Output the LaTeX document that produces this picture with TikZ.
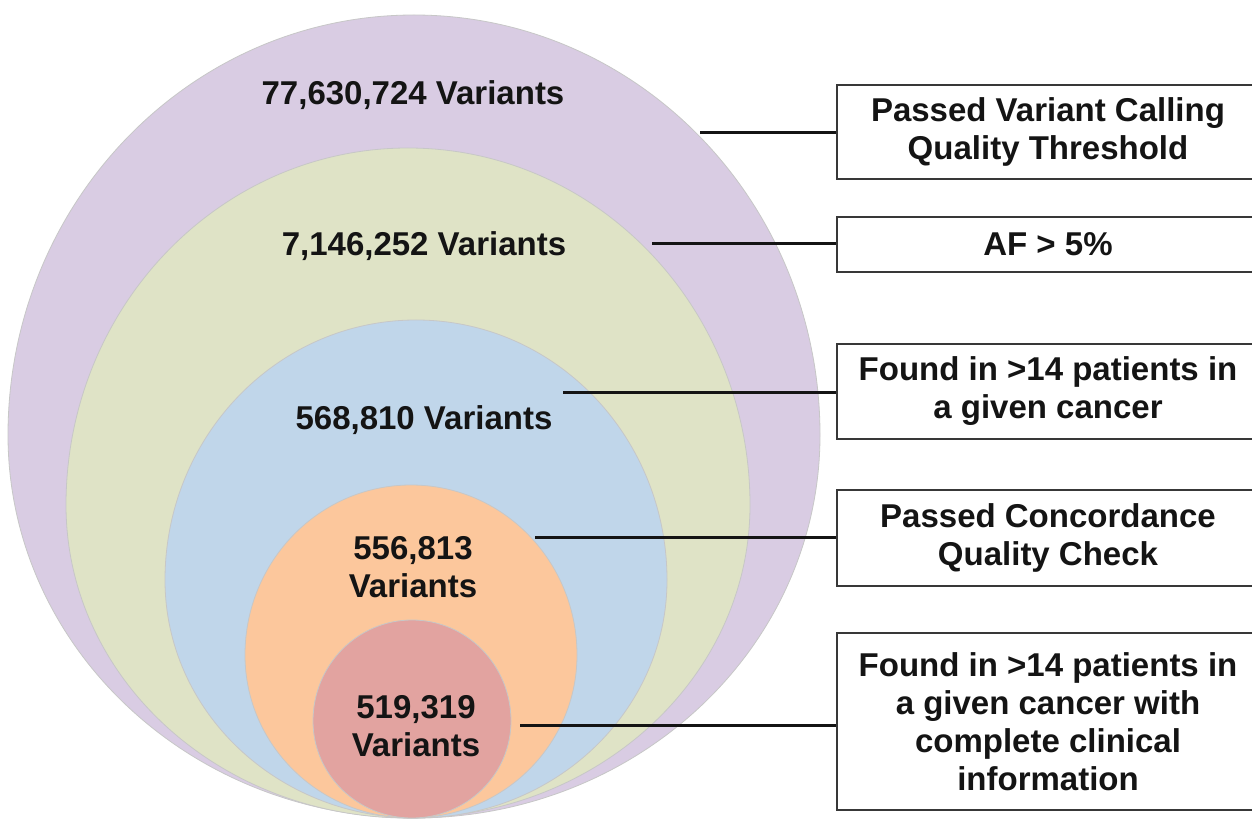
\documentclass[tikz,border=0pt]{standalone}
\usepackage{fontspec}
\setmainfont{Liberation Sans}
\usetikzlibrary{calc,positioning}
\definecolor{TierPurple}{HTML}{D9CCE3}
\definecolor{TierGreen}{HTML}{DFE3C6}
\definecolor{TierBlue}{HTML}{C0D6EA}
\definecolor{TierOrange}{HTML}{FCC79C}
\definecolor{TierRed}{HTML}{E2A3A0}
\definecolor{InkDark}{HTML}{141414}
\tikzset{
  egg/.style={draw=black!22,line width=.8pt},
  count/.style={font=\fontsize{33}{38}\selectfont\bfseries,text=InkDark,inner sep=0pt,align=center},
  filterbox/.style={draw=black!78,line width=1.3pt,fill=white,minimum width=422pt,
    font=\fontsize{33}{38}\selectfont\bfseries,text=InkDark,align=center,inner sep=0pt},
  link/.style={draw=InkDark,line width=3pt}
}
% one nested set: upper half-ellipse on top of a slightly flatter lower half
\newcommand{\DrawEgg}[6]{%
  \filldraw[egg,fill=#1] (#2-#4,#3)
    arc[start angle=180,end angle=0,x radius=#4,y radius=#5]
    arc[start angle=0,end angle=-180,x radius=#4,y radius=#6] -- cycle;
}

\begin{document}
\begin{tikzpicture}[x=1pt,y=1pt]
  \useasboundingbox (0,0) rectangle (1252,820);
  \fill[white] (0,0) rectangle (1252,820);
  % nested sets
  \DrawEgg{TierPurple}{414}{385}{406}{420}{383}
  \DrawEgg{TierGreen}{408}{315}{342}{357}{313}
  \DrawEgg{TierBlue}{416}{240}{251}{260}{238}
  \DrawEgg{TierOrange}{411}{165}{166}{170}{163}
  \DrawEgg{TierRed}{412}{99}{99}{101}{97}
  % counts
  \node[count,anchor=base] (n1) at (413,715) {77,630,724 Variants};
  \node[count,anchor=base] (n2) at (424,564) {7,146,252 Variants};
  \node[count,anchor=base] (n3) at (424,390) {568,810 Variants};
  \node[count] (n4) at (413,253) {556,813\\Variants};
  \node[count] (n5) at (416,94) {519,319\\Variants};
  % filters
  \node[filterbox,minimum height=94pt] (f1) at (1048,688)
    {Passed Variant Calling\\Quality Threshold};
  \node[filterbox,minimum height=55pt] (f2) at (1048,575.5) {AF > 5\%};
  \node[filterbox,minimum height=95pt] (f3) at (1048,428.5)
    {Found in >14 patients in\\a given cancer};
  \node[filterbox,minimum height=96pt] (f4) at (1048,282)
    {Passed Concordance\\Quality Check};
  \node[filterbox,minimum height=177pt] (f5) at (1048,98.5)
    {Found in >14 patients in\\a given cancer with\\complete clinical\\information};
  % leaders
  \coordinate (p1) at (700,687);
  \coordinate (p2) at (652,576);
  \coordinate (p3) at (563,427);
  \coordinate (p4) at (535,283);
  \coordinate (p5) at (520,95);
  \foreach \i in {1,...,5}{\draw[link] (p\i) -- (p\i -| f\i.west);}
\end{tikzpicture}
\end{document}
